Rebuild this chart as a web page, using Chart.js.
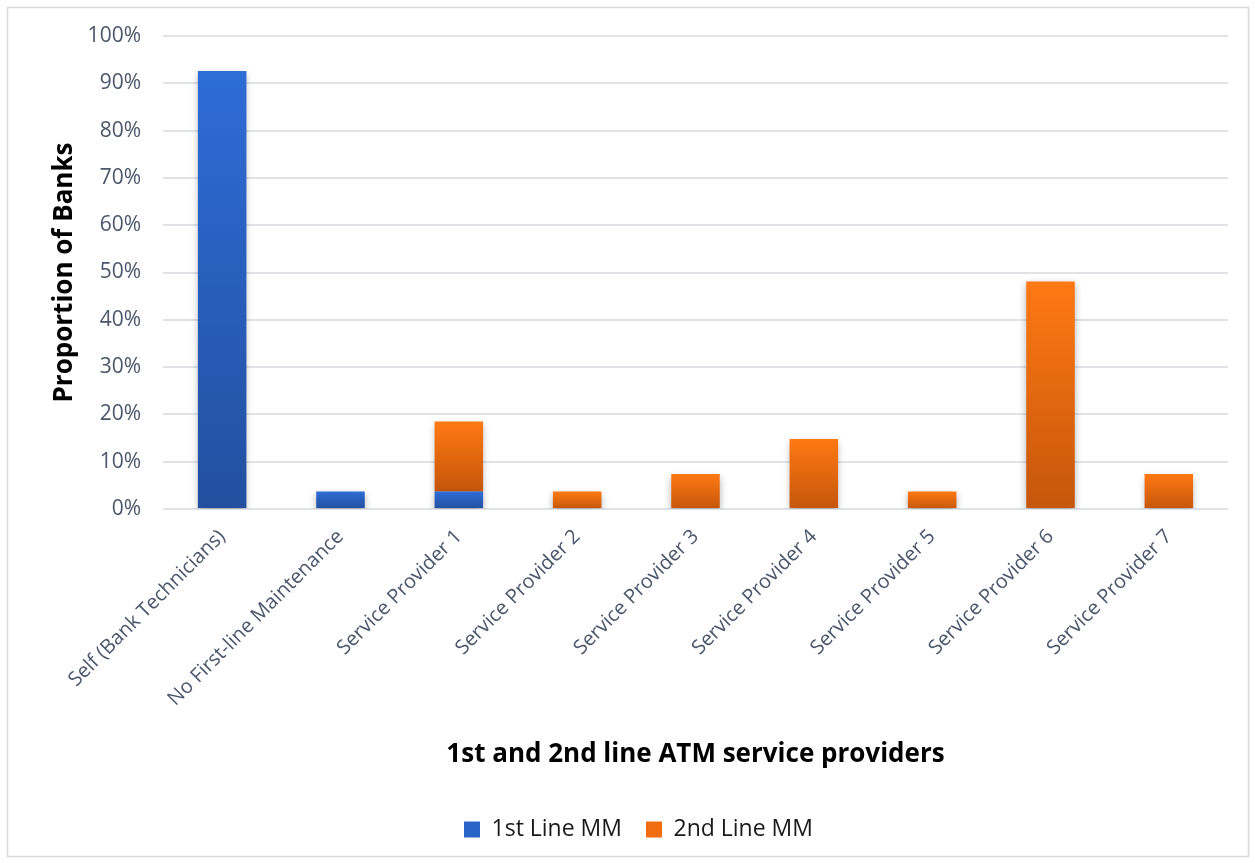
<!DOCTYPE html>
<html>
<head>
<meta charset="utf-8">
<script src="https://cdn.jsdelivr.net/npm/chart.js@4"></script>
<style>
  html, body { margin: 0; padding: 0; background: #fff; }
  #wrap { width: 1255px; height: 863px; position: relative; }
</style>
</head>
<body>
<div id="wrap"><canvas id="chart" width="1255" height="863"></canvas></div>
<script>
var categories = [
    "Self (Bank Technicians)",
    "No First-line Maintenance",
    "Service Provider 1",
    "Service Provider 2",
    "Service Provider 3",
    "Service Provider 4",
    "Service Provider 5",
    "Service Provider 6",
    "Service Provider 7"
];
var firstLine = [92.6, 3.7, 3.7, 0, 0, 0, 0, 0, 0];
var secondLine = [0, 0, 14.8, 3.7, 7.4, 14.8, 3.7, 48.1, 7.4];
var yTicks = [0, 10, 20, 30, 40, 50, 60, 70, 80, 90, 100];

var FONT = "'Open Sans', 'Noto Sans', sans-serif";
var TICK_COLOR = "#4a576b";

// each bar segment gets its own top-to-bottom gradient
function segmentGradient(light, dark, baseOf) {
    return function(ctx) {
        var chart = ctx.chart;
        if (ctx.type !== "data" || !chart.chartArea) return light;
        var i = ctx.dataIndex;
        var v = ctx.dataset.data[i];
        if (!v) return light;
        var y = chart.scales.y;
        var base = baseOf(i);
        var top = y.getPixelForValue(base + v);
        var bottom = y.getPixelForValue(base);
        var g = chart.ctx.createLinearGradient(0, top, 0, bottom);
        g.addColorStop(0, light);
        g.addColorStop(1, dark);
        return g;
    };
}

var framePlugin = {
    id: "frame",
    beforeDraw: function(chart) {
        var c = chart.ctx;
        c.save();
        c.fillStyle = "#fff";
        c.fillRect(0, 0, chart.width, chart.height);
        c.strokeStyle = "#d9d9d9";
        c.lineWidth = 1.5;
        c.strokeRect(7.5, 7.5, 1241, 849);
        c.restore();
    },
    beforeDatasetsDraw: function(chart) {
        var c = chart.ctx;
        c.save();
        c.shadowColor = "rgba(0,0,0,0.3)";
        c.shadowBlur = 7;
        c.shadowOffsetY = 3;
    },
    afterDatasetsDraw: function(chart) {
        chart.ctx.restore();
    }
};

new Chart(document.getElementById("chart").getContext("2d"), {
    type: "bar",
    data: {
        labels: categories,
        datasets: [{
            label: "1st Line MM",
            data: firstLine,
            backgroundColor: segmentGradient("#2e6cd7", "#22509f", function() { return 0; }),
            barPercentage: 0.82,
            categoryPercentage: 0.5
        }, {
            label: "2nd Line MM",
            data: secondLine,
            backgroundColor: segmentGradient("#ff7913", "#c5560b", function(i) { return firstLine[i]; }),
            barPercentage: 0.82,
            categoryPercentage: 0.5
        }]
    },
    plugins: [framePlugin],
    options: {
        responsive: false,
        animation: false,
        layout: { padding: { left: 49, right: 27, top: 36, bottom: 12 } },
        plugins: {
            tooltip: { enabled: false },
            legend: {
                position: "bottom",
                labels: {
                    font: { family: FONT, size: 23 },
                    color: "#1a1a1a",
                    boxWidth: 16,
                    boxHeight: 16,
                    padding: 24,
                    generateLabels: function(chart) {
                        var fills = ["#2b64c9", "#f06d10"];
                        return chart.data.datasets.map(function(ds, i) {
                            return {
                                text: ds.label,
                                fillStyle: fills[i],
                                strokeStyle: fills[i],
                                lineWidth: 0,
                                fontColor: "#1a1a1a",
                                datasetIndex: i
                            };
                        });
                    }
                }
            }
        },
        scales: {
            x: {
                stacked: true,
                grid: { display: false, drawTicks: false },
                border: { display: false },
                ticks: {
                    font: { family: FONT, size: 20 },
                    color: TICK_COLOR,
                    minRotation: 45,
                    maxRotation: 45,
                    padding: 16,
                    autoSkip: false
                },
                title: {
                    display: true,
                    text: "1st and 2nd line ATM service providers",
                    font: { family: FONT, size: 26, weight: "bold" },
                    color: "#000",
                    padding: { top: 10, bottom: 24 }
                },
                afterFit: function(scale) { scale.height = 285; }
            },
            y: {
                stacked: true,
                min: 0,
                max: 100,
                afterBuildTicks: function(scale) {
                    scale.ticks = yTicks.map(function(v) { return { value: v }; });
                },
                grid: { color: "#dfe3e8", lineWidth: 2, drawTicks: false },
                border: { display: false },
                ticks: {
                    font: { family: FONT, size: 21 },
                    color: TICK_COLOR,
                    padding: 22,
                    callback: function(v) { return v + "%"; }
                },
                title: {
                    display: true,
                    text: "Proportion of Banks",
                    font: { family: FONT, size: 26, weight: "bold" },
                    color: "#000",
                    padding: { top: 0, bottom: 8 }
                },
                afterFit: function(scale) { scale.width = 114; }
            }
        }
    }
});
</script>
</body>
</html>
